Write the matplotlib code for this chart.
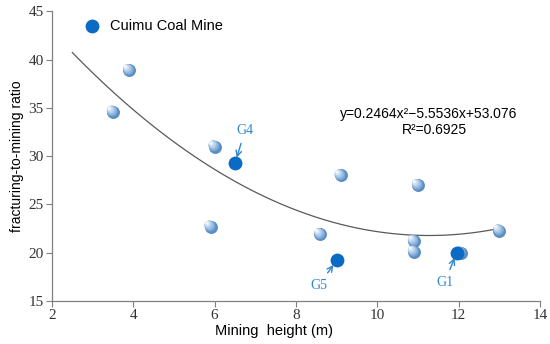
import numpy as np
import matplotlib
matplotlib.use("Agg")
import matplotlib.pyplot as plt

# data
heights = [3.5, 3.9, 6.0, 5.9, 8.6, 9.1, 11.0, 10.9, 10.9, 12.05, 13.0]
ratios = [34.6, 38.9, 31.0, 22.7, 21.9, 28.0, 27.0, 21.2, 20.1, 20.0, 22.3]
cuimu_names = ["G4", "G5", "G1"]
cuimu_heights = [6.5, 9.0, 11.95]
cuimu_ratios = [29.3, 19.2, 20.0]
label_pos = [(6.75, 32.7), (8.55, 16.6), (11.65, 16.9)]
coef = [0.2464, -5.5536, 53.076]
r2 = 0.6925
x_ticks = [2, 4, 6, 8, 10, 12, 14]
y_ticks = [15, 20, 25, 30, 35, 40, 45]

fig = plt.figure(figsize=(5.5, 3.44), dpi=100)
ax = fig.add_axes([0.0945, 0.125, 0.8875, 0.842])

# fit curve
xf = np.linspace(2.5, 13.0, 200)
yf = np.polyval(coef, xf)
ax.plot(xf, yf, color="#595959", lw=0.9, zorder=2)

# gradient spheres
hx = np.array(heights); hy = np.array(ratios)
ax.scatter(hx, hy, s=75, color="#5b8fc7", edgecolors="#4a7fb8", linewidths=0.5, zorder=3)
layers = [(60, "#7aa6d6"), (45, "#95badf"), (30, "#b2cde8"), (16, "#cfe0f2"), (6, "#eef5fc")]
for i, (s, c) in enumerate(layers):
    off = 0.018 * (i + 1)
    ax.scatter(hx - off, hy + off * 4, s=s, color=c, edgecolors="none", zorder=3 + i * 0.01)

# Cuimu points
ax.scatter(cuimu_heights, cuimu_ratios, s=80, color="#0a6ac4", edgecolors="#0a6ac4", zorder=4,
           label="Cuimu Coal Mine")
for name, hxx, hyy, (tx, ty) in zip(cuimu_names, cuimu_heights, cuimu_ratios, label_pos):
    ax.annotate(name, xy=(hxx, hyy), xytext=(tx, ty), color="#2e86d1",
                fontsize=10, family="Liberation Serif", ha="center", va="center",
                arrowprops=dict(arrowstyle="->", color="#2e86d1", lw=1.0,
                                shrinkA=3, shrinkB=4), zorder=5)

eq = "y={:.4f}x\u00b2\u2212{:.4f}x+{:.3f}".format(coef[0], -coef[1], coef[2])
ax.text(11.25, 34.4, eq, fontsize=10, family="Liberation Sans", ha="center", va="center")
ax.text(11.4, 32.7, "R\u00b2={:.4f}".format(r2), fontsize=10, family="Liberation Sans",
        ha="center", va="center")

leg = ax.legend(loc="upper left", bbox_to_anchor=(0.04, 0.995), frameon=False,
                prop={"family": "Liberation Sans", "size": 10.5}, handletextpad=0.25,
                borderaxespad=0.0)

ax.set_xlim(2, 14)
ax.set_ylim(15, 45)
ax.set_xticks(x_ticks)
ax.set_yticks(y_ticks)
for lab in ax.get_xticklabels() + ax.get_yticklabels():
    lab.set_family("Liberation Serif")
    lab.set_fontsize(11)
    lab.set_color("#333333")
ax.tick_params(direction="out", length=4, width=0.8, color="#808080", pad=2)
for sp in ["top", "right"]:
    ax.spines[sp].set_visible(False)
for sp in ["left", "bottom"]:
    ax.spines[sp].set_color("#808080")
    ax.spines[sp].set_linewidth(0.9)

ax.set_xlabel("Mining  height (m)", family="Liberation Sans", fontsize=10.5)
ax.xaxis.set_label_coords(0.455, -0.08)
ax.set_ylabel("fracturing-to-mining ratio", family="Liberation Sans", fontsize=10, labelpad=3)

fig.savefig("out.png", dpi=100)
